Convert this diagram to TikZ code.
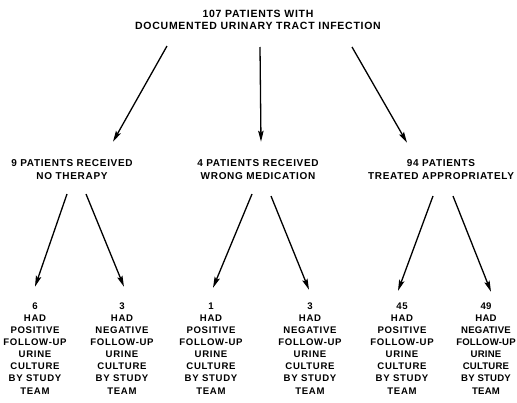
\documentclass[tikz,border=0pt]{standalone}
\usepackage{fontspec}
\setmainfont{Liberation Sans}
\newfontfamily\capfont{Liberation Sans}[LetterSpace=7]
\newfontfamily\tightcapfont{Liberation Sans}[LetterSpace=2]
\usetikzlibrary{arrows.meta}

\begin{document}
\begin{tikzpicture}[x=1pt,y=-1pt,
  lab/.style={inner sep=0pt, align=center, anchor=south},
  headlab/.style={lab, font=\capfont\bfseries\fontsize{10.5}{12}\selectfont},
  grouplab/.style={lab, font=\capfont\bfseries\fontsize{10}{13}\selectfont},
  outlab/.style={lab, font=\capfont\bfseries\fontsize{9.6}{12.15}\selectfont},
  edgelab/.style={lab, font=\tightcapfont\bfseries\fontsize{9.6}{12.15}\selectfont},
  flow/.style={line width=1.3pt, -{Stealth[length=11pt,width=5.5pt,inset=2pt]}}
]
\useasboundingbox (0,0) rectangle (517,402);

% root
\node[headlab] (root) at (258,29.5) {107 PATIENTS WITH\\DOCUMENTED URINARY TRACT INFECTION};

% treatment groups
\node[grouplab] (none)  at (72,180)  {9 PATIENTS RECEIVED\\NO THERAPY};
\node[grouplab] (wrong) at (258,180) {4 PATIENTS RECEIVED\\WRONG MEDICATION};
\node[grouplab] (right) at (441,180) {94 PATIENTS\\TREATED APPROPRIATELY};

% follow-up outcomes
\node[outlab] (nonepos)  at (35,394.3)  {6\\HAD\\POSITIVE\\FOLLOW-UP\\URINE\\CULTURE\\BY STUDY\\TEAM};
\node[outlab] (noneneg)  at (122,394.3) {3\\HAD\\NEGATIVE\\FOLLOW-UP\\URINE\\CULTURE\\BY STUDY\\TEAM};
\node[outlab] (wrongpos) at (211,394.3) {1\\HAD\\POSITIVE\\FOLLOW-UP\\URINE\\CULTURE\\BY STUDY\\TEAM};
\node[outlab] (wrongneg) at (310,394.3) {3\\HAD\\NEGATIVE\\FOLLOW-UP\\URINE\\CULTURE\\BY STUDY\\TEAM};
\node[outlab] (rightpos) at (402,394.3) {45\\HAD\\POSITIVE\\FOLLOW-UP\\URINE\\CULTURE\\BY STUDY\\TEAM};
\node[edgelab] (rightneg) at (486,394.3) {49\\HAD\\NEGATIVE\\FOLLOW-UP\\URINE\\CULTURE\\BY STUDY\\TEAM};

% root to groups
\draw[flow] ([shift={(-91,16.5)}]root.south) -- ([shift={(41,-17.8)}]none.north);
\draw[flow] ([shift={(2,17.5)}]root.south)   -- ([shift={(3,-17.8)}]wrong.north);
\draw[flow] ([shift={(94,17.5)}]root.south)  -- ([shift={(-34,-16.8)}]right.north);

% groups to outcomes
\draw[flow] ([shift={(-5,14)}]none.south)  -- ([shift={(0,-15.4)}]nonepos.north);
\draw[flow] ([shift={(14,14)}]none.south)  -- ([shift={(2,-15.4)}]noneneg.north);
\draw[flow] ([shift={(-6,14)}]wrong.south) -- ([shift={(2,-14.4)}]wrongpos.north);
\draw[flow] ([shift={(13,16)}]wrong.south) -- ([shift={(-1,-12.4)}]wrongneg.north);
\draw[flow] ([shift={(-8,16)}]right.south) -- ([shift={(-4,-11.4)}]rightpos.north);
\draw[flow] ([shift={(12,16)}]right.south) -- ([shift={(5,-10.4)}]rightneg.north);
\end{tikzpicture}
\end{document}
